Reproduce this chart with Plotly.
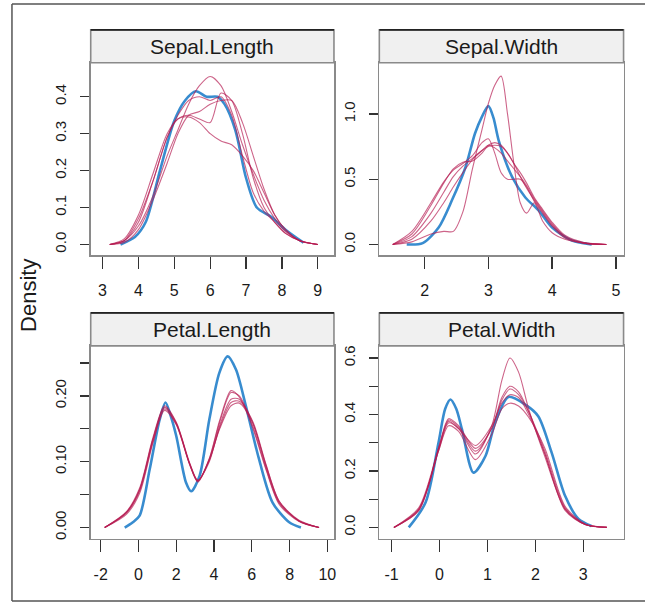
import plotly.graph_objects as go

# ---------------- data ----------------
panel_names = ["Sepal.Length", "Sepal.Width", "Petal.Length", "Petal.Width"]

# Sepal.Length
sl_obs_x = [3.5, 3.9, 4.2, 4.6, 5.0, 5.3, 5.6, 5.9, 6.2, 6.4, 6.7, 7.0, 7.3, 7.7, 8.1, 8.6]
sl_obs_y = [0.0, 0.02, 0.06, 0.20, 0.335, 0.39, 0.415, 0.40, 0.40, 0.38, 0.31, 0.18, 0.10, 0.075, 0.04, 0.005]
sl_imp_x = [3.2, 3.6, 4.0, 4.4, 4.8, 5.1, 5.4, 5.7, 6.0, 6.3, 6.6, 6.9, 7.2, 7.5, 7.8, 8.1, 8.5, 9.0]
sl_imp_y = [
    [0, 0.01, 0.05, 0.13, 0.24, 0.31, 0.38, 0.43, 0.455, 0.43, 0.36, 0.27, 0.19, 0.12, 0.07, 0.035, 0.01, 0],
    [0, 0.01, 0.07, 0.17, 0.29, 0.34, 0.35, 0.34, 0.33, 0.41, 0.39, 0.30, 0.18, 0.10, 0.06, 0.03, 0.01, 0],
    [0, 0.015, 0.08, 0.19, 0.30, 0.34, 0.345, 0.33, 0.30, 0.28, 0.27, 0.24, 0.20, 0.14, 0.08, 0.04, 0.01, 0],
    [0, 0.01, 0.06, 0.17, 0.29, 0.35, 0.39, 0.40, 0.39, 0.40, 0.35, 0.24, 0.14, 0.09, 0.06, 0.03, 0.01, 0],
    [0, 0.005, 0.04, 0.12, 0.22, 0.30, 0.35, 0.36, 0.38, 0.39, 0.39, 0.33, 0.24, 0.15, 0.08, 0.04, 0.01, 0],
]

# Sepal.Width
sw_obs_x = [1.72, 1.97, 2.22, 2.43, 2.64, 2.79, 2.9, 3.0, 3.08, 3.16, 3.37, 3.58, 3.79, 4.0, 4.31, 4.62]
sw_obs_y = [0, 0.01, 0.13, 0.34, 0.59, 0.85, 0.98, 1.06, 0.97, 0.80, 0.52, 0.36, 0.26, 0.13, 0.03, 0]
sw_imp_x = [1.5, 1.8, 2.1, 2.3, 2.45, 2.6, 2.75, 2.9, 3.0, 3.1, 3.2, 3.3, 3.4, 3.5, 3.6, 3.72, 3.85, 4.0, 4.2, 4.5, 4.85]
sw_imp_y = [
    [0, 0.02, 0.08, 0.10, 0.10, 0.25, 0.58, 0.88, 1.08, 1.22, 1.29, 1.0, 0.62, 0.32, 0.24, 0.32, 0.18, 0.09, 0.04, 0.01, 0],
    [0, 0.08, 0.30, 0.47, 0.58, 0.63, 0.64, 0.70, 0.76, 0.78, 0.76, 0.70, 0.62, 0.52, 0.43, 0.34, 0.25, 0.15, 0.06, 0.01, 0],
    [0, 0.06, 0.24, 0.40, 0.52, 0.60, 0.66, 0.72, 0.75, 0.76, 0.75, 0.70, 0.62, 0.55, 0.47, 0.36, 0.27, 0.17, 0.07, 0.015, 0],
    [0, 0.10, 0.32, 0.48, 0.57, 0.62, 0.68, 0.78, 0.81, 0.70, 0.55, 0.50, 0.50, 0.50, 0.44, 0.33, 0.24, 0.14, 0.05, 0.01, 0],
    [0, 0.04, 0.18, 0.32, 0.44, 0.55, 0.65, 0.72, 0.76, 0.74, 0.70, 0.64, 0.58, 0.52, 0.45, 0.35, 0.26, 0.16, 0.06, 0.01, 0],
]

# Petal.Length
pl_obs_x = [-0.73, -0.3, 0.06, 0.59, 1.12, 1.43, 1.7, 2.0, 2.52, 2.79, 3.23, 3.75, 4.28, 4.72, 5.16, 5.69, 6.39, 7.1, 7.98, 8.6]
pl_obs_y = [0, 0.008, 0.018, 0.088, 0.164, 0.19, 0.17, 0.139, 0.068, 0.055, 0.078, 0.164, 0.235, 0.26, 0.24, 0.184, 0.103, 0.038, 0.008, 0]
pl_imp_x = [-1.79, -0.64, 0.06, 0.76, 1.38, 2.0, 2.7, 3.14, 3.75, 4.3, 4.9, 5.34, 6.04, 6.75, 7.45, 8.5, 9.56]
pl_imp_y = [
    [0, 0.023, 0.058, 0.134, 0.183, 0.159, 0.098, 0.071, 0.103, 0.150, 0.185, 0.189, 0.159, 0.093, 0.038, 0.010, 0],
    [0, 0.022, 0.055, 0.130, 0.180, 0.157, 0.097, 0.069, 0.104, 0.160, 0.205, 0.200, 0.155, 0.090, 0.037, 0.010, 0],
    [0, 0.024, 0.060, 0.136, 0.185, 0.160, 0.099, 0.072, 0.100, 0.155, 0.195, 0.195, 0.160, 0.095, 0.040, 0.010, 0],
    [0, 0.020, 0.052, 0.128, 0.178, 0.156, 0.096, 0.070, 0.105, 0.163, 0.208, 0.198, 0.152, 0.088, 0.035, 0.009, 0],
    [0, 0.023, 0.057, 0.133, 0.182, 0.158, 0.097, 0.071, 0.102, 0.152, 0.190, 0.192, 0.162, 0.096, 0.040, 0.011, 0],
]

# Petal.Width
pw_obs_x = [-0.64, -0.29, -0.02, 0.12, 0.23, 0.35, 0.47, 0.71, 0.96, 1.16, 1.44, 1.79, 2.06, 2.34, 2.62, 2.9, 3.17]
pw_obs_y = [0, 0.088, 0.30, 0.42, 0.453, 0.42, 0.347, 0.194, 0.253, 0.37, 0.462, 0.435, 0.394, 0.265, 0.112, 0.03, 0.005]
pw_imp_x = [-0.95, -0.43, -0.02, 0.19, 0.4, 0.75, 1.09, 1.3, 1.47, 1.65, 1.86, 2.2, 2.62, 3.04, 3.49]
pw_imp_y = [
    [0, 0.065, 0.27, 0.37, 0.35, 0.26, 0.36, 0.52, 0.60, 0.55, 0.42, 0.25, 0.065, 0.01, 0],
    [0, 0.060, 0.28, 0.385, 0.36, 0.28, 0.35, 0.45, 0.49, 0.47, 0.41, 0.27, 0.07, 0.01, 0],
    [0, 0.070, 0.28, 0.375, 0.35, 0.29, 0.36, 0.44, 0.47, 0.46, 0.40, 0.26, 0.06, 0.01, 0],
    [0, 0.060, 0.27, 0.36, 0.34, 0.24, 0.33, 0.42, 0.44, 0.43, 0.39, 0.28, 0.075, 0.012, 0],
    [0, 0.065, 0.275, 0.38, 0.355, 0.27, 0.35, 0.46, 0.50, 0.48, 0.41, 0.26, 0.065, 0.01, 0],
]

# axis ticks
sl_xticks = [3, 4, 5, 6, 7, 8, 9]
sl_xlabels = ["3", "4", "5", "6", "7", "8", "9"]
sw_xticks = [2, 3, 4, 5]
sw_xlabels = ["2", "3", "4", "5"]
pl_xticks = [-2, 0, 2, 4, 6, 8, 10]
pl_xlabels = ["-2", "0", "2", "4", "6", "8", "10"]
pw_xticks = [-1, 0, 1, 2, 3]
pw_xlabels = ["-1", "0", "1", "2", "3"]
sl_yticks = [0, 0.1, 0.2, 0.3, 0.4]
sl_ylabels = ["0.0", "0.1", "0.2", "0.3", "0.4"]
sw_yticks = [0, 0.5, 1.0]
sw_ylabels = ["0.0", "0.5", "1.0"]
pl_yticks = [0, 0.05, 0.10, 0.15, 0.20, 0.25]
pl_ylabels = ["0.00", "", "0.10", "", "0.20", ""]
pw_yticks = [0, 0.1, 0.2, 0.3, 0.4, 0.5, 0.6]
pw_ylabels = ["0.0", "", "0.2", "", "0.4", "", "0.6"]

y_title = "Density"

# ---------------- styling / layout ----------------
W, H = 647, 604
FONT = "Liberation Sans, Arial, sans-serif"
BLUE = "rgba(0,108,194,0.78)"
RED = "rgba(182,26,81,0.68)"

panels = [
    dict(name=panel_names[0], ox=sl_obs_x, oy=sl_obs_y, ix=sl_imp_x, iy=sl_imp_y,
         px=(91, 335), py=(62, 255), xr=[2.67, 9.45], yr=[-0.029, 0.492],
         xt=sl_xticks, xl=sl_xlabels, yt=sl_yticks, yl=sl_ylabels),
    dict(name=panel_names[1], ox=sw_obs_x, oy=sw_obs_y, ix=sw_imp_x, iy=sw_imp_y,
         px=(380.5, 625.5), py=(62, 255), xr=[1.29, 5.12], yr=[-0.082, 1.392],
         xt=sw_xticks, xl=sw_xlabels, yt=sw_yticks, yl=sw_ylabels),
    dict(name=panel_names[2], ox=pl_obs_x, oy=pl_obs_y, ix=pl_imp_x, iy=pl_imp_y,
         px=(91, 335), py=(346, 539.5), xr=[-2.53, 10.35], yr=[-0.017, 0.276],
         xt=pl_xticks, xl=pl_xlabels, yt=pl_yticks, yl=pl_ylabels),
    dict(name=panel_names[3], ox=pw_obs_x, oy=pw_obs_y, ix=pw_imp_x, iy=pw_imp_y,
         px=(380.5, 625.5), py=(346, 539.5), xr=[-1.254, 3.84], yr=[-0.040, 0.643],
         xt=pw_xticks, xl=pw_xlabels, yt=pw_yticks, yl=pw_ylabels),
]
STRIP_H = 33

fig = go.Figure()
shapes = []
annotations = []
layout_axes = {}

for i, p in enumerate(panels):
    k = "" if i == 0 else str(i + 1)
    xa, ya = "x" + k, "y" + k
    fig.add_trace(go.Scatter(x=p["ox"], y=p["oy"], mode="lines", xaxis=xa, yaxis=ya,
                             line=dict(color=BLUE, width=2.6, shape="spline", smoothing=0.8),
                             showlegend=False, hoverinfo="skip"))
    for ys in p["iy"]:
        fig.add_trace(go.Scatter(x=p["ix"], y=ys, mode="lines", xaxis=xa, yaxis=ya,
                                 line=dict(color=RED, width=1.1, shape="spline", smoothing=0.8),
                                 showlegend=False, hoverinfo="skip"))
    x0, x1 = p["px"]
    y0, y1 = p["py"]
    layout_axes["xaxis" + k] = dict(
        domain=[x0 / W, x1 / W], anchor=ya, range=p["xr"],
        tickvals=p["xt"], ticktext=p["xl"],
        ticks="outside", ticklen=12, tickwidth=1.3, tickcolor="#333",
        showline=True, mirror=True, linecolor="#8a8a8a", linewidth=1.6,
        showgrid=False, zeroline=False, ticklabelstandoff=8, fixedrange=True,
        tickfont=dict(family=FONT, size=16, color="#1a1a1a"))
    layout_axes["yaxis" + k] = dict(
        domain=[1 - y1 / H, 1 - y0 / H], anchor=xa, range=p["yr"],
        tickvals=p["yt"], ticktext=p["yl"], tickangle=-90,
        ticks="outside", ticklen=9, tickwidth=1.3, tickcolor="#333",
        showline=True, mirror=True, linecolor="#8a8a8a", linewidth=1.6,
        showgrid=False, zeroline=False, ticklabelstandoff=8, fixedrange=True,
        tickfont=dict(family=FONT, size=15, color="#1a1a1a"))
    # strip
    shapes.append(dict(type="rect", xref="paper", yref="paper",
                       x0=x0 / W, x1=x1 / W, y0=1 - y0 / H, y1=1 - (y0 - STRIP_H) / H,
                       fillcolor="#f0f0f0", line=dict(color="#8a8a8a", width=1.6)))
    shapes.append(dict(type="line", xref="paper", yref="paper",
                       x0=x0 / W, x1=x1 / W, y0=1 - (y0 - STRIP_H) / H, y1=1 - (y0 - STRIP_H) / H,
                       line=dict(color="#222", width=1.8)))
    annotations.append(dict(text=p["name"], xref="paper", yref="paper",
                            x=(x0 + x1) / 2 / W, y=1 - (y0 - STRIP_H / 2) / H,
                            showarrow=False, xanchor="center", yanchor="middle",
                            font=dict(family=FONT, size=21, color="#1a1a1a")))

# outer frame (left, top, bottom; right edge lies outside the picture)
for (fx0, fy0, fx1, fy1) in [(12, 3, 12, 602), (12, 3, 647, 3), (12, 602, 647, 602)]:
    shapes.append(dict(type="line", xref="paper", yref="paper",
                       x0=fx0 / W, x1=fx1 / W, y0=1 - fy0 / H, y1=1 - fy1 / H,
                       line=dict(color="#555", width=1.5)))

annotations.append(dict(text=y_title, xref="paper", yref="paper", x=28 / W, y=1 - 295 / H,
                        textangle=-90, showarrow=False, xanchor="center", yanchor="middle",
                        font=dict(family=FONT, size=22, color="#1a1a1a")))

fig.update_layout(width=W, height=H, margin=dict(l=0, r=0, t=0, b=0),
                  paper_bgcolor="white", plot_bgcolor="white",
                  shapes=shapes, annotations=annotations, **layout_axes)

fig.write_html("out.html", config={"displayModeBar": False, "staticPlot": True},
               post_script="document.body.style.margin='0px';document.body.style.overflow='hidden';")
